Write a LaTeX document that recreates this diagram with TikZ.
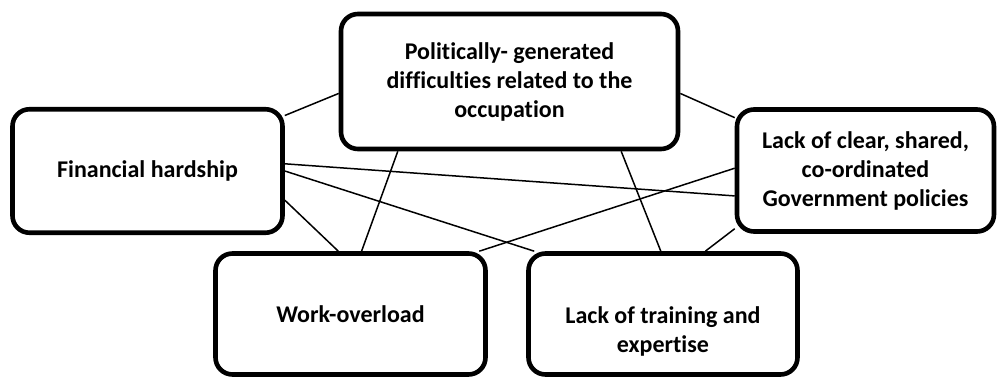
\documentclass[tikz,border=0pt]{standalone}
\usepackage{fontspec}
\setmainfont{Carlito}[Ligatures=NoCommon]

\tikzset{
  factor/.style={draw, rectangle, rounded corners=8.5pt, line width=2.3pt, align=center,
    font=\fontsize{12}{14.5}\selectfont\bfseries, minimum width=135pt, minimum height=60.5pt},
  link/.style={line width=0.75pt}
}

\begin{document}
\begin{tikzpicture}[x=0.5pt, y=-0.5pt]
  \useasboundingbox (0,0) rectangle (998,378);
  % the five boxes
  \node [factor, minimum width=168.5pt, minimum height=67.5pt] (pol) at (509.5,81.5) {Politically- generated\\difficulties related to the\\occupation};
  \node [factor, minimum height=61.75pt] (fin) at (147.5,171) {Financial hardship};
  \node [factor, minimum width=128.5pt, minimum height=61pt] (gov) at (865.5,170.5) {Lack of clear, shared,\\co-ordinated\\Government policies};
  \node [factor] (work) at (350.5,314) {Work-overload};
  \node [factor, minimum width=134.5pt, label={[font=\fontsize{12}{14.5}\selectfont\bfseries, align=center, yshift=-8.5pt]center:Lack of training and\\expertise}] (train) at (663,314) {};
  % links
  \draw [link] (fin.22) -- (pol.184);
  \draw [link] (pol.-4) -- (gov.158);
  \draw [link] (fin.3) -- (gov.191);
  \draw [link] (fin.east) -- (train.154);
  \draw [link] (fin.-12) -- (work.101);
  \draw [link] (pol.212) -- (work.80);
  \draw [link] (pol.-32) -- (train.92);
  \draw [link] (gov.179) -- (work.26);
  \draw [link] (gov.204) -- (train.56);
\end{tikzpicture}
\end{document}
